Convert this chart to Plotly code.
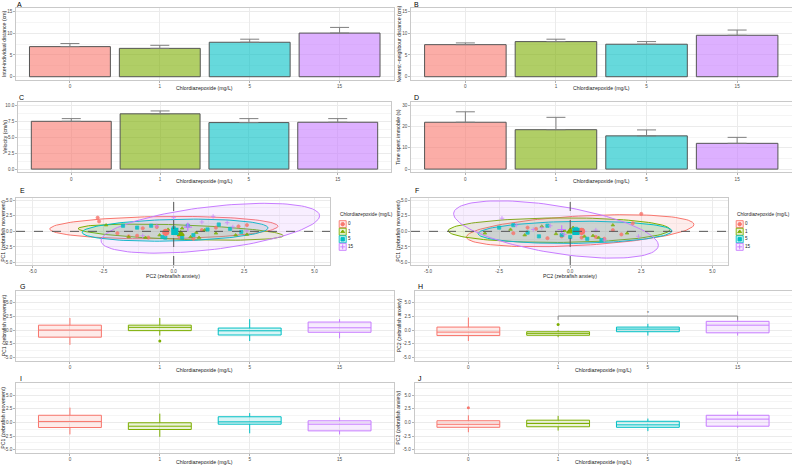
import numpy as np
import plotly.graph_objects as go

W, H = 792, 468
FONT = "Liberation Sans, Arial, sans-serif"

DOSES = ['0', '1', '5', '15']
HUE = ['#F8766D', '#7CAE00', '#00BFC4', '#C77CFF']
SYMBOLS = ['circle', 'triangle-up', 'square', 'cross-thin']
X_TITLE = 'Chlordiazepoxide (mg/L)'

# ---- A-D: bar chart data (mean and upper error) ----
inter_dist_mean = [6.9, 6.5, 7.9, 10.0]
inter_dist_upper = [7.6, 7.2, 8.6, 11.3]
nn_dist_mean = [7.35, 8.05, 7.45, 9.5]
nn_dist_upper = [7.75, 8.6, 8.05, 10.7]
velocity_mean = [7.48, 8.65, 7.28, 7.33]
velocity_upper = [7.9, 9.1, 7.9, 7.9]
immobile_mean = [22.0, 18.5, 15.6, 12.1]
immobile_upper = [26.9, 24.3, 18.4, 14.9]

# ---- E: PCA scores (x = PC2, y = PC1) ----
E_pc2 = {
    '0': [-2.7, -2.65, -2.0, -1.6, -1.1, -1.3, -0.6, 0.2, 0.7, 1.0, 1.5, 2.3, 2.6, -0.9, 0.3],
    '1': [-2.4, -1.6, -1.0, -0.5, 0.1, 0.3, 0.6, 0.9, 1.1, 1.5, 2.2, 2.6, -0.2, 0.8],
    '5': [-1.8, -1.3, -0.8, -0.3, 0.0, 0.3, 0.7, 1.2, 1.6, 2.0, 2.4, -0.4, 0.5],
    '15': [-1.1, -0.6, 0.0, 0.5, 1.4, 1.9, 2.1, 2.6, -0.3, 1.0],
}
E_pc1 = {
    '0': [2.2, 1.6, -0.3, -0.8, 0.5, -0.7, 0.7, -0.8, -1.2, 0.2, 0.6, 0.8, 1.0, -1.0, -0.5],
    '1': [1.0, -0.9, -1.0, -0.6, -0.4, 0.5, -0.9, -1.0, 0.2, -0.3, -0.6, -0.5, 0.3, -0.2],
    '5': [0.9, 0.6, 0.9, -1.0, 0.5, -1.0, -0.6, 0.3, 1.1, 0.4, -0.1, -0.9, 0.9],
    '15': [-0.7, 0.9, 2.2, 1.0, 2.4, 1.4, 0.7, 0.1, -0.5, 1.5],
}
E_mean_pc2 = [-0.28, 0.25, 0.04, 0.5]
E_mean_pc1 = [-0.15, -0.42, 0.0, 0.69]
# ellipse: centre x, centre y, x half-extent, y half-extent, correlation
E_ell_cx = [-0.35, 0.25, 0.05, 1.3]
E_ell_cy = [0.6, -0.13, 0.19, 0.5]
E_ell_rx = [4.05, 3.64, 3.3, 3.88]
E_ell_ry = [1.8, 1.3, 1.77, 4.0]
E_ell_rho = [0.12, -0.44, 0.2, 0.5]

# ---- F ----
F_pc2 = {
    '0': [2.5, 2.2, 1.5, 1.8, 0.9, 0.4, -0.3, -1.5, -2.0, -0.8, 0.2, 1.2, -1.2],
    '1': [-3.0, -2.1, -1.6, -1.0, -0.5, 0.1, 0.5, 1.0, 1.5, 2.0, -0.2, 0.8],
    '5': [-2.5, -2.0, -1.5, -0.8, -0.3, 0.2, 0.6, 1.1, -1.1, 0.0, 0.4],
    '15': [-2.4, -1.9, -1.3, -0.7, -0.2, 0.5, 1.2, 2.4, -1.0, 0.9],
}
F_pc1 = {
    '0': [2.8, 1.3, 0.2, -0.5, -0.9, -1.0, -0.8, 0.6, -0.3, -1.1, 0.0, -1.2, 0.4],
    '1': [-0.3, 0.3, -0.6, 0.8, -0.4, 0.6, -0.8, -1.0, 1.0, -0.3, 0.1, -0.7],
    '5': [0.6, 1.0, -0.2, 0.9, -0.6, 0.4, -1.2, -1.4, -0.8, -0.9, 0.2],
    '15': [2.1, 1.0, 0.3, 0.9, -0.5, 0.0, -1.4, -0.8, 0.6, 0.2],
}
F_mean_pc2 = [0.4, 0.0, 0.2, -0.3]
F_mean_pc1 = [0.0, 0.0, 0.0, 0.3]
F_ell_cx = [0.35, -0.39, 0.17, -0.5]
F_ell_cy = [0.1, 0.19, -0.16, 0.3]
F_ell_rx = [4.0, 3.9, 3.41, 3.6]
F_ell_ry = [2.57, 1.97, 1.78, 4.6]
F_ell_rho = [0.39, 0.05, 0.12, -0.55]

# ---- G-J: boxplot statistics ----
G_q1 = [-1.3, -0.1, -0.9, -0.4]
G_med = [0.0, 0.5, -0.13, 0.42]
G_q3 = [0.9, 0.9, 0.37, 1.47]
G_lo = [-2.7, -1.0, -2.0, -1.5]
G_hi = [2.2, 2.2, 2.0, 2.0]
G_out_grp = [1]
G_out_val = [-2.0]

H_q1 = [-1.0, -0.95, -0.3, -0.5]
H_med = [-0.37, -0.6, 0.18, 0.9]
H_q3 = [0.55, -0.3, 0.55, 1.6]
H_lo = [-2.0, -1.3, -1.0, -1.0]
H_hi = [2.3, 0.0, 1.15, 1.85]
H_out_grp = [1]
H_out_val = [1.0]
H_sig_groups = [1, 3]
H_sig_y = 2.57
H_sig_label = '*'

I_q1 = [-0.94, -1.3, -0.33, -1.55]
I_med = [0.17, -0.7, 0.1, -0.33]
I_q3 = [1.3, -0.07, 1.03, 0.29]
I_lo = [-2.2, -2.65, -2.0, -2.2]
I_hi = [2.7, 1.6, 1.7, 0.9]
I_out_grp = []
I_out_val = []

J_q1 = [-0.9, -0.8, -0.9, -0.7]
J_med = [-0.35, -0.2, -0.45, 0.6]
J_q3 = [0.3, 0.4, 0.2, 1.3]
J_lo = [-1.8, -1.5, -1.6, -1.0]
J_hi = [1.3, 1.2, 0.7, 2.0]
J_out_grp = [0]
J_out_val = [2.7]


def rgba(hexc, a):
    h = hexc.lstrip('#')
    r, g, b = int(h[0:2], 16), int(h[2:4], 16), int(h[4:6], 16)
    return f'rgba({r},{g},{b},{a})'


def dx(l, r):
    return [l / W, r / W]


def dy(t, b):
    return [1 - b / H, 1 - t / H]


fig = go.Figure()
layout = {}
annotations = []
shapes = []

GRID = '#EBEBEB'
MINOR = '#F5F5F5'
BORDER = '#C9C9C9'
TICKF = dict(family=FONT, size=4.6, color='#4D4D4D')
TITLEF = dict(family=FONT, size=5.2, color='#1A1A1A')


def add_axes(i, xdom, ydom, xr, yr, xtv, xtt, ytv, ytt, xminor=None, yminor=None):
    xa = dict(domain=dx(*xdom), range=xr, tickvals=xtv, ticktext=xtt, showgrid=True,
              gridcolor=GRID, gridwidth=0.6, zeroline=False, showline=True, mirror=True,
              linecolor=BORDER, linewidth=0.6, ticks='outside', ticklen=2, tickwidth=0.6,
              tickcolor='#B3B3B3', tickfont=TICKF, anchor=f'y{i}', automargin=False,
              fixedrange=True)
    ya = dict(domain=dy(*ydom), range=yr, tickvals=ytv, ticktext=ytt, showgrid=True,
              gridcolor=GRID, gridwidth=0.6, zeroline=False, showline=True, mirror=True,
              linecolor=BORDER, linewidth=0.6, ticks='outside', ticklen=2, tickwidth=0.6,
              tickcolor='#B3B3B3', tickfont=TICKF, anchor=f'x{i}', automargin=False,
              fixedrange=True)
    if xminor:
        xa['minor'] = dict(tickvals=xminor, showgrid=True, gridcolor=MINOR, gridwidth=0.5, ticks='')
    if yminor:
        ya['minor'] = dict(tickvals=yminor, showgrid=True, gridcolor=MINOR, gridwidth=0.5, ticks='')
    layout['xaxis' if i == 1 else f'xaxis{i}'] = xa
    layout['yaxis' if i == 1 else f'yaxis{i}'] = ya


def ax(i):
    return ('x' if i == 1 else f'x{i}'), ('y' if i == 1 else f'y{i}')


def label(txt, x, y):
    annotations.append(dict(text=txt, x=x / W, y=1 - y / H, xref='paper', yref='paper',
                            showarrow=False, xanchor='left', yanchor='middle',
                            font=dict(family=FONT, size=7, color='black')))


def xtitle(txt, xc, y):
    annotations.append(dict(text=txt, x=xc / W, y=1 - y / H, xref='paper', yref='paper',
                            showarrow=False, xanchor='center', yanchor='middle', font=TITLEF))


def ytitle(txt, x, yc):
    annotations.append(dict(text=txt, x=x / W, y=1 - yc / H, xref='paper', yref='paper',
                            showarrow=False, xanchor='center', yanchor='middle', textangle=-90,
                            font=TITLEF))


LEFT = (16, 393.5)
LEFT_C = (18, 391)
RIGHT = (411, 791.5)
RIGHT_BOX = (414.5, 791.5)
CAT_R = [-0.6, 3.6]
CATS = [0, 1, 2, 3]

rows = {1: (8, 80), 2: (102, 172.3), 3: (197.7, 265), 4: (291, 360.7), 5: (383.3, 453)}
xtitle_y = {1: 88, 2: 181.5, 3: 275.7, 4: 370, 5: 462.3}

# ---------------- bars A-D ----------------
bar_specs = [
    (1, LEFT, 1, inter_dist_mean, inter_dist_upper, 'Inter-individual distance (cm)',
     [-0.75, 15.75], [0, 5, 10, 15], ['0', '5', '10', '15'], [2.5, 7.5, 12.5], 'A', 4, 15),
    (2, RIGHT, 1, nn_dist_mean, nn_dist_upper, 'Nearest−neighbour distance (cm)',
     [-0.75, 15.75], [0, 5, 10, 15], ['0', '5', '10', '15'], [2.5, 7.5, 12.5], 'B', 398.5, 412),
    (3, LEFT_C, 2, velocity_mean, velocity_upper, 'Velocity (cm/s)',
     [-0.5, 10.5], [0, 2.5, 5, 7.5, 10], ['0.0', '2.5', '5.0', '7.5', '10.0'],
     [1.25, 3.75, 6.25, 8.75], 'C', 5.5, 17),
    (4, RIGHT, 2, immobile_mean, immobile_upper, 'Time spent immobile (s)',
     [-1.5, 31.5], [0, 10, 20, 30], ['0', '10', '20', '30'], [5, 15, 25], 'D', 398.5, 412),
]
for i, xd, row, mean, upper, yt, yr, ytv, ytt, ymin, lab, ytx, labx in bar_specs:
    add_axes(i, xd, rows[row], CAT_R, yr, CATS, DOSES, ytv, ytt, yminor=ymin)
    xa, ya = ax(i)
    fig.add_trace(go.Bar(
        x=CATS, y=mean, width=0.9, xaxis=xa, yaxis=ya, showlegend=False,
        marker=dict(color=[rgba(c, 0.6) for c in HUE], line=dict(color='#555555', width=1)),
        error_y=dict(type='data', symmetric=False,
                     array=[u - m for u, m in zip(upper, mean)],
                     arrayminus=[0] * 4, color='#7F7F7F', thickness=1, width=9.5)))
    xtitle(X_TITLE, (xd[0] + xd[1]) / 2, xtitle_y[row])
    ytitle(yt, ytx, (rows[row][0] + rows[row][1]) / 2)
    label(lab, labx, rows[row][0] - 3.5 if row == 1 else rows[row][0] - 5)

# ---------------- PCA scatter E, F ----------------
t = np.linspace(0, 2 * np.pi, 120)
pc_ticks = [-5, -2.5, 0, 2.5, 5]
pc_ticktext = ['-5.0', '-2.5', '0.0', '2.5', '5.0']
pc_minor = [-3.75, -1.25, 1.25, 3.75]
pca_specs = [
    (5, (16, 330), E_pc2, E_pc1, E_mean_pc2, E_mean_pc1, E_ell_cx, E_ell_cy, E_ell_rx,
     E_ell_ry, E_ell_rho, 'E', 3.5, (338, 395)),
    (6, (411, 728), F_pc2, F_pc1, F_mean_pc2, F_mean_pc1, F_ell_cx, F_ell_cy, F_ell_rx,
     F_ell_ry, F_ell_rho, 'F', 398.5, (735, 792)),
]
for (i, xd, px, py, mx, my, cx, cy, rx, ry, rho, lab, ytx, legd) in pca_specs:
    add_axes(i, xd, rows[3], [-5.6, 5.55], [-5.4, 5.4], pc_ticks, pc_ticktext, pc_ticks,
             pc_ticktext, xminor=pc_minor, yminor=pc_minor)
    xa, ya = ax(i)
    for g in range(4):
        ex = cx[g] + rx[g] * np.cos(t)
        ey = cy[g] + ry[g] * (rho[g] * np.cos(t) + np.sqrt(1 - rho[g] ** 2) * np.sin(t))
        fig.add_trace(go.Scatter(x=ex, y=ey, mode='lines', fill='toself',
                                 fillcolor=rgba(HUE[g], 0.13),
                                 line=dict(color=HUE[g], width=1), xaxis=xa, yaxis=ya,
                                 showlegend=False, hoverinfo='skip'))
    for g in range(4):
        d = DOSES[g]
        mk = dict(symbol=SYMBOLS[g], size=3.2, color=HUE[g],
                  line=dict(color=HUE[g], width=0.8))
        fig.add_trace(go.Scatter(x=px[d], y=py[d], mode='markers', marker=mk, xaxis=xa,
                                 yaxis=ya, showlegend=False, opacity=0.85))
    for g in range(4):
        mk = dict(symbol=SYMBOLS[g], size=6, color=HUE[g], line=dict(color=HUE[g], width=1.2))
        fig.add_trace(go.Scatter(x=[mx[g]], y=[my[g]], mode='markers', marker=mk, xaxis=xa,
                                 yaxis=ya, showlegend=False))
    shapes.append(dict(type='line', xref=xa, yref=f'{ya} domain', x0=0, x1=0, y0=0, y1=1,
                       line=dict(color='#555555', width=1, dash='dash')))
    shapes.append(dict(type='line', xref=f'{xa} domain', yref=ya, x0=0, x1=1, y0=0, y1=0,
                       line=dict(color='#555555', width=1, dash='dash')))
    xtitle('PC2 (zebrafish anxiety)', (xd[0] + xd[1]) / 2, xtitle_y[3])
    ytitle('PC1 (zebrafish movement)', ytx, (rows[3][0] + rows[3][1]) / 2)
    label(lab, xd[0] + 2, rows[3][0] - 7)
    # legend drawn in its own small axis
    li = i + 10
    layout[f'xaxis{li}'] = dict(domain=dx(*legd), range=[0, legd[1] - legd[0]], visible=False,
                                fixedrange=True, anchor=f'y{li}')
    layout[f'yaxis{li}'] = dict(domain=dy(220, 251), range=[3.55, -0.55], visible=False,
                                fixedrange=True, anchor=f'x{li}')
    lx, ly = f'x{li}', f'y{li}'
    idx = list(range(4))
    fig.add_trace(go.Scatter(x=[4.7] * 4, y=idx, mode='markers', xaxis=lx, yaxis=ly,
                             showlegend=False,
                             marker=dict(symbol='square', size=7,
                                         color=[rgba(c, 0.15) for c in HUE],
                                         line=dict(color=HUE, width=0.9))))
    for g in range(4):
        fig.add_trace(go.Scatter(x=[4.7], y=[g], mode='markers', xaxis=lx, yaxis=ly,
                                 showlegend=False,
                                 marker=dict(symbol=SYMBOLS[g], size=3.5, color=HUE[g],
                                             line=dict(color=HUE[g], width=0.9))))
    fig.add_trace(go.Scatter(x=[10] * 4, y=idx, mode='text', text=DOSES, xaxis=lx, yaxis=ly,
                             textposition='middle right', showlegend=False,
                             textfont=dict(family=FONT, size=4.6, color='#1A1A1A')))
    annotations.append(dict(text='Chlordiazepoxide (mg/L)', x=legd[0] / W, y=1 - 215 / H,
                            xref='paper', yref='paper', showarrow=False, xanchor='left',
                            yanchor='middle', font=dict(family=FONT, size=4.8, color='#1A1A1A')))

# ---------------- boxplots G-J ----------------
box_specs = [
    (7, LEFT, 4, G_q1, G_med, G_q3, G_lo, G_hi, G_out_grp, G_out_val,
     'PC1 (zebrafish movement)', 'G'),
    (8, RIGHT_BOX, 4, H_q1, H_med, H_q3, H_lo, H_hi, H_out_grp, H_out_val,
     'PC2 (zebrafish anxiety)', 'H'),
    (9, LEFT, 5, I_q1, I_med, I_q3, I_lo, I_hi, I_out_grp, I_out_val,
     'PC1 (zebrafish movement)', 'I'),
    (10, RIGHT_BOX, 5, J_q1, J_med, J_q3, J_lo, J_hi, J_out_grp, J_out_val,
     'PC2 (zebrafish anxiety)', 'J'),
]
for (i, xd, row, q1, med, q3, lo, hi, og, ov, yt, lab) in box_specs:
    add_axes(i, xd, rows[row], CAT_R, [-5.6, 7.15], CATS, DOSES, pc_ticks, pc_ticktext,
             yminor=[-3.75, -1.25, 1.25, 3.75, 6.25])
    xa, ya = ax(i)
    for g in range(4):
        fig.add_trace(go.Box(x=[g], q1=[q1[g]], median=[med[g]], q3=[q3[g]],
                             lowerfence=[lo[g]], upperfence=[hi[g]], width=0.7,
                             xaxis=xa, yaxis=ya, showlegend=False, boxpoints=False,
                             fillcolor=rgba(HUE[g], 0.15),
                             line=dict(color=HUE[g], width=1), whiskerwidth=0))
    if og:
        fig.add_trace(go.Scatter(x=og, y=ov, mode='markers', xaxis=xa, yaxis=ya,
                                 showlegend=False,
                                 marker=dict(size=3, color=[HUE[k] for k in og])))
    xtitle(X_TITLE, (xd[0] + xd[1]) / 2, xtitle_y[row])
    ytitle(yt, 3.5 if xd == LEFT else 398.5, (rows[row][0] + rows[row][1]) / 2)
    label(lab, xd[0] + 1.5, rows[row][0] - 5)

# significance bracket in H
xa, ya = ax(8)
g0, g1 = H_sig_groups
fig.add_trace(go.Scatter(x=[g0, g0, g1, g1], y=[H_sig_y - 0.7, H_sig_y, H_sig_y, H_sig_y - 0.7],
                         mode='lines', line=dict(color='#7F7F7F', width=0.9), xaxis=xa,
                         yaxis=ya, showlegend=False))
fig.add_trace(go.Scatter(x=[(g0 + g1) / 2], y=[H_sig_y + 0.45], mode='text', text=[H_sig_label],
                         textfont=dict(family=FONT, size=5, color='#4D4D4D'), xaxis=xa,
                         yaxis=ya, showlegend=False))

fig.update_layout(**layout)
fig.update_layout(width=W, height=H, margin=dict(l=0, r=0, t=0, b=0), paper_bgcolor='white',
                  plot_bgcolor='white', annotations=annotations, shapes=shapes,
                  showlegend=False, barmode='overlay')
fig.write_html('out.html', config={'displayModeBar': False},
               post_script="document.body.style.margin='0px';")
